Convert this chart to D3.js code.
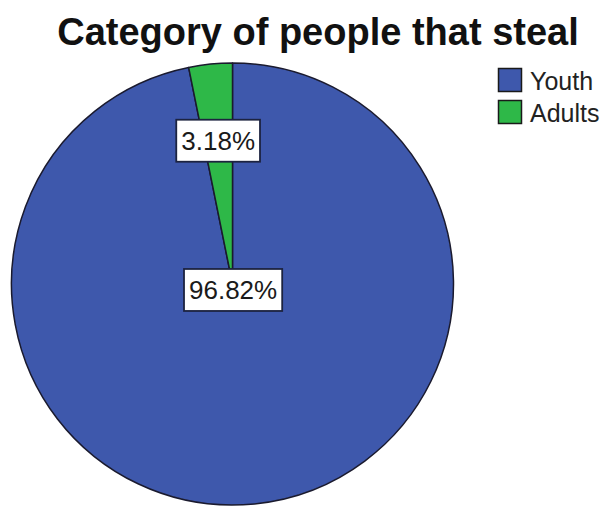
<!DOCTYPE html>
<html>
<head>
<meta charset="utf-8">
<script src="https://cdn.jsdelivr.net/npm/d3@7"></script>
<style>
  html, body { margin: 0; padding: 0; background: #ffffff; }
  svg { display: block; }
  text { font-family: "Liberation Sans", Arial, sans-serif; }
</style>
</head>
<body>
<svg id="chart" width="607" height="506"></svg>
<script>
// Share of people who steal, by category
const categories = ["Youth", "Adults"];
const percents = [96.82, 3.18];
const colors = ["#3E58AC", "#2EB848"];
const title = "Category of people that steal";

const W = 607, H = 506;
const cx = 232.5, cy = 284, R = 221;

const svg = d3.select("#chart");

svg.append("text")
  .attr("x", 318).attr("y", 45)
  .attr("text-anchor", "middle")
  .attr("font-size", 38)
  .attr("font-weight", "bold")
  .attr("fill", "#111")
  .text(title);

const data = categories.map((c, i) => ({ cat: c, value: percents[i], color: colors[i] }));

// Youth runs clockwise from 12 o'clock; Adults fills the remainder just left of it
const pie = d3.pie().value(d => d.value).sort(null);
const arcs = pie(data);
const arc = d3.arc().innerRadius(0).outerRadius(R);

const g = svg.append("g").attr("transform", `translate(${cx},${cy})`);

g.selectAll("path.slice")
  .data(arcs)
  .join("path")
  .attr("class", "slice")
  .attr("d", arc)
  .attr("fill", d => d.data.color)
  .attr("stroke", "#1a1a2e")
  .attr("stroke-width", 1.5)
  .attr("stroke-linejoin", "round");

// Percentage labels in white boxes
const labelRadius = [6, 144];
const fmt = d3.format(".2f");
arcs.forEach((a, i) => {
  const mid = (a.startAngle + a.endAngle) / 2;
  const lx = Math.sin(mid) * labelRadius[i];
  const ly = -Math.cos(mid) * labelRadius[i];
  const lg = g.append("g").attr("transform", `translate(${lx},${ly})`);
  const t = lg.append("text")
    .attr("text-anchor", "middle")
    .attr("y", 9)
    .attr("font-size", 26)
    .attr("fill", "#1a1a1a")
    .text(fmt(a.data.value) + "%");
  const bb = t.node().getBBox();
  lg.insert("rect", "text")
    .attr("x", bb.x - 5)
    .attr("y", -21)
    .attr("width", bb.width + 10)
    .attr("height", 42)
    .attr("fill", "#ffffff")
    .attr("stroke", "#1c2340")
    .attr("stroke-width", 1.8);
});

// Legend
const legend = svg.append("g").attr("transform", "translate(498,68)");
const rowH = 32;
const items = legend.selectAll("g.item")
  .data(data)
  .join("g")
  .attr("class", "item")
  .attr("transform", (d, i) => `translate(0,${i * rowH})`);
items.append("rect")
  .attr("x", 0.5).attr("y", 0.5)
  .attr("width", 23).attr("height", 23)
  .attr("fill", d => d.color)
  .attr("stroke", "#1a1a1a")
  .attr("stroke-width", 1.5);
items.append("text")
  .attr("x", 32).attr("y", 22)
  .attr("font-size", 25)
  .attr("fill", "#222")
  .text(d => d.cat);
</script>
</body>
</html>
